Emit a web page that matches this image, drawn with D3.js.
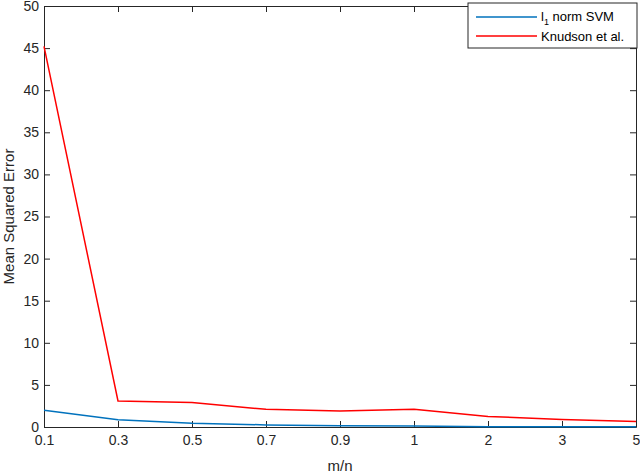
<!DOCTYPE html>
<html><head><meta charset="utf-8">
<script src="https://cdn.jsdelivr.net/npm/d3@7"></script>
<style>body{margin:0;background:#fff}text{font-family:"Liberation Sans",Arial,sans-serif}</style>
</head><body><div id="chart"></div>
<script>
var categories = ["0.1","0.3","0.5","0.7","0.9","1","2","3","5"];
var svmValues = [2.0, 0.85, 0.45, 0.25, 0.15, 0.12, 0.03, 0.02, 0.02];
var knudsonValues = [45.2, 3.1, 2.9, 2.1, 1.9, 2.1, 1.25, 0.9, 0.65];
var yTicks = [0,5,10,15,20,25,30,35,40,45,50];

var svgWidth = 640, svgHeight = 474;
var margin = {top: 6, right: 4, bottom: 47, left: 44};
var width = svgWidth - margin.left - margin.right;
var height = svgHeight - margin.top - margin.bottom;

var svg = d3.select("#chart").append("svg")
  .attr("width", svgWidth).attr("height", svgHeight);
var g = svg.append("g").attr("transform", `translate(${margin.left},${margin.top})`);

var x = d3.scalePoint().domain(categories).range([0, width]);
var y = d3.scaleLinear().domain([0, 50]).range([height, 0]);

function styleAxis(a) {
  a.select(".domain").attr("stroke", "#262626");
  a.selectAll(".tick line").attr("stroke", "#262626");
  a.selectAll("text").attr("fill", "#262626").attr("font-size", 14);
}
g.append("g").attr("transform", `translate(0,${height})`)
  .call(d3.axisBottom(x).tickSizeInner(-6).tickSizeOuter(0).tickPadding(8)).call(styleAxis);
g.append("g").call(d3.axisLeft(y).tickValues(yTicks).tickSizeInner(-6).tickSizeOuter(0).tickPadding(5)).call(styleAxis);
g.append("g").call(d3.axisTop(x).tickSizeInner(-6).tickSizeOuter(0).tickFormat("")).call(styleAxis);
g.append("g").attr("transform", `translate(${width},0)`)
  .call(d3.axisRight(y).tickValues(yTicks).tickSizeInner(-6).tickSizeOuter(0).tickFormat("")).call(styleAxis);

var line = d3.line().x((d, i) => x(categories[i])).y(d => y(d));
g.append("path").datum(svmValues).attr("d", line).attr("fill", "none").attr("stroke", "#0072BD").attr("stroke-width", 1.5);
g.append("path").datum(knudsonValues).attr("d", line).attr("fill", "none").attr("stroke", "#FF0000").attr("stroke-width", 1.5);

g.append("text").attr("x", width / 2).attr("y", height + 44).attr("text-anchor", "middle")
  .attr("font-size", 15).attr("fill", "#262626").text("m/n");
g.append("text").attr("transform", "rotate(-90)").attr("x", -height / 2).attr("y", -30)
  .attr("text-anchor", "middle").attr("font-size", 15).attr("fill", "#262626").text("Mean Squared Error");

// legend
var lg = svg.append("g").attr("transform", "translate(468,3)");
lg.append("rect").attr("width", 169).attr("height", 45).attr("fill", "#fff").attr("stroke", "#262626");
lg.append("line").attr("x1", 8).attr("x2", 69).attr("y1", 14).attr("y2", 14).attr("stroke", "#0072BD").attr("stroke-width", 1.5);
lg.append("line").attr("x1", 8).attr("x2", 69).attr("y1", 33).attr("y2", 33).attr("stroke", "#FF0000").attr("stroke-width", 1.5);
var t1 = lg.append("text").attr("x", 73).attr("y", 18).attr("font-size", 13).attr("fill", "#000");
t1.append("tspan").text("l");
t1.append("tspan").attr("font-size", 9).attr("dy", 4).text("1");
t1.append("tspan").attr("dy", -4).text(" norm SVM");
lg.append("text").attr("x", 73).attr("y", 38).attr("font-size", 13).attr("fill", "#000").text("Knudson et al.");
</script></body></html>
